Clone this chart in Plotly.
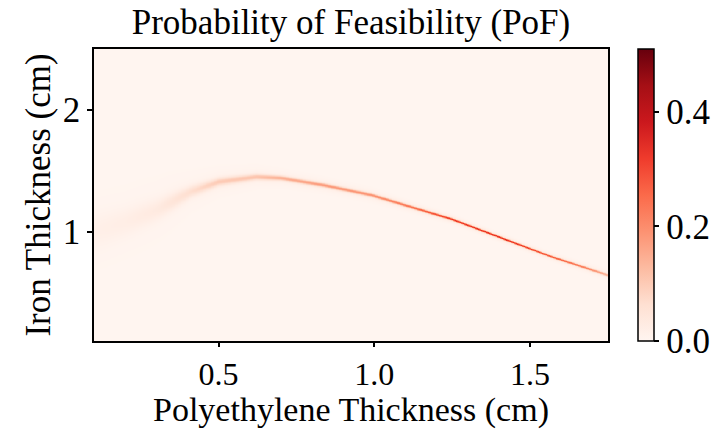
import numpy as np
import plotly.graph_objects as go

# Ridge of the PoF map
ridge_x = [0.10, 0.20, 0.30, 0.41, 0.50, 0.62, 0.70, 0.84, 0.99, 1.12, 1.25, 1.42, 1.56, 1.68, 1.75]
ridge_y = [1.00, 1.08, 1.18, 1.33, 1.41, 1.45, 1.44, 1.38, 1.30, 1.20, 1.10, 0.935, 0.80, 0.70, 0.64]
ridge_peak = [0.015, 0.02, 0.03, 0.06, 0.09, 0.10, 0.13, 0.16, 0.17, 0.22, 0.30, 0.32, 0.26, 0.20, 0.12]
ridge_width = [0.10, 0.08, 0.06, 0.032, 0.022, 0.017, 0.013, 0.011, 0.010, 0.008, 0.0065, 0.006, 0.006, 0.007, 0.009]

x_range = [0.1, 1.75]
y_range = [0.1, 2.5]
z_range = [0.0, 0.51]

xs = np.linspace(x_range[0], x_range[1], 330)
ys = np.linspace(y_range[0], y_range[1], 800)
cy = np.interp(xs, ridge_x, ridge_y)
pk = np.interp(xs, ridge_x, ridge_peak)
wd = np.interp(xs, ridge_x, ridge_width)
Y = ys[:, None]
z = pk * np.exp(-0.5 * ((Y - cy) / wd) ** 2) + 0.12 * pk * np.exp(-0.5 * ((Y - cy) / (3 * wd)) ** 2)

font = "Liberation Serif"
fs = 35

fig = go.Figure(go.Heatmap(
    x=xs, y=ys, z=z, colorscale="Reds", zmin=z_range[0], zmax=z_range[1],
    zsmooth="best",
    colorbar=dict(
        x=1.058, xanchor="left", xref="paper", xpad=0, ypad=0,
        y=0.5, yanchor="middle", len=1.0, lenmode="fraction",
        thickness=16, outlinewidth=1.5, outlinecolor="black",
        tickvals=[0.0, 0.2, 0.4], ticktext=["0.0", "0.2", "0.4"],
        ticks="outside", ticklen=5, tickwidth=1.5, tickcolor="black",
        tickfont=dict(family=font, size=fs, color="black"),
    ),
))

axis_common = dict(
    showline=True, linecolor="black", linewidth=1.5, mirror=True,
    ticks="outside", tickwidth=1.5, tickcolor="black",
    showgrid=False, zeroline=False,
)

fig.update_layout(
    width=723, height=431,
    margin=dict(l=94, r=115, t=49, b=90, autoexpand=False),
    paper_bgcolor="white", plot_bgcolor="white",
    title=dict(text="Probability of Feasibility (PoF)", x=0.5, xref="paper", xanchor="center",
               y=0.95, yanchor="middle",
               font=dict(family=font, size=fs, color="black")),
    xaxis=dict(range=x_range, tickvals=[0.5, 1.0, 1.5], ticktext=["0.5", "1.0", "1.5"],
               ticklen=4, tickfont=dict(family=font, size=32, color="black"),
               **axis_common),
    yaxis=dict(range=y_range, tickvals=[1, 2], ticktext=["1", "2"],
               ticklen=5, tickfont=dict(family=font, size=fs, color="black"),
               title=dict(text="Iron Thickness (cm)", standoff=2,
                          font=dict(family=font, size=fs, color="black")),
               **axis_common),
    annotations=[dict(
        text="Polyethylene Thickness (cm)", xref="paper", yref="paper",
        x=0.5, xanchor="center", y=-0.308, yanchor="bottom",
        showarrow=False, font=dict(family=font, size=34, color="black"),
    )],
)

fig.write_html("out.html")
